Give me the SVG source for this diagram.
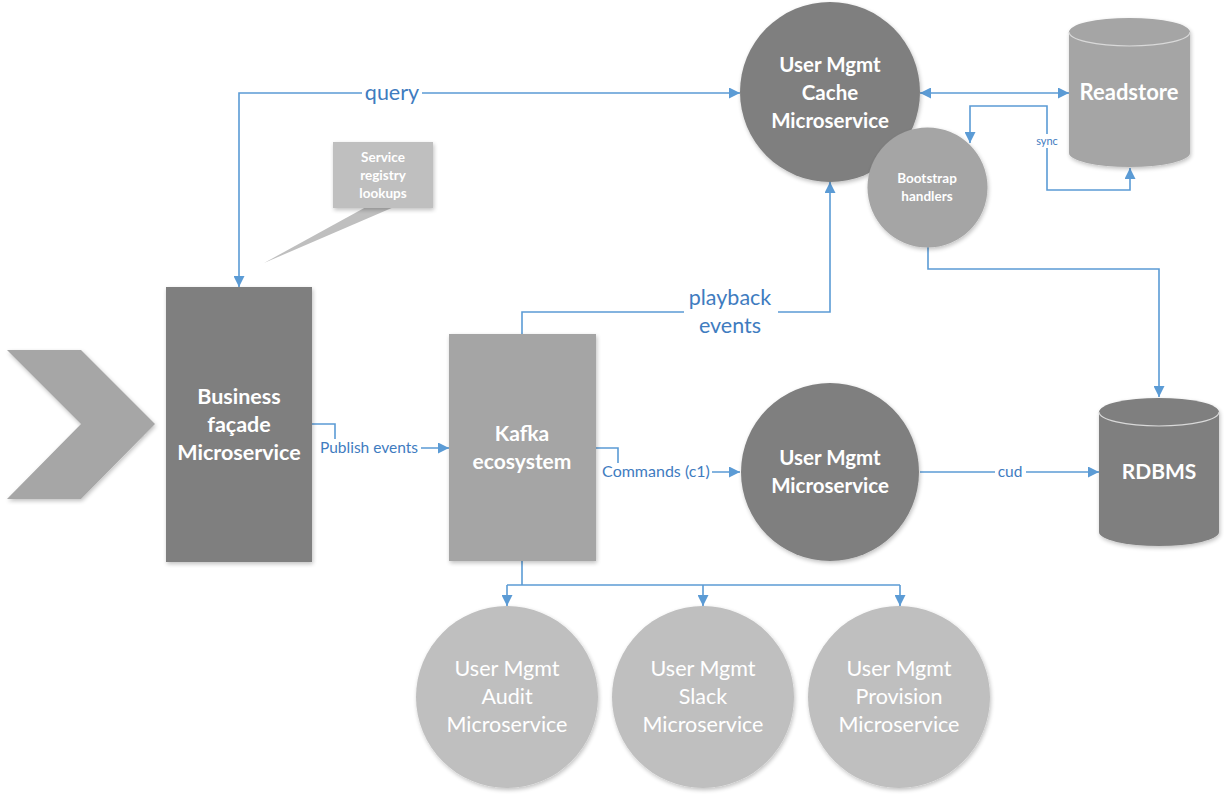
<svg xmlns="http://www.w3.org/2000/svg" width="1232" height="796" viewBox="0 0 1232 796">
<style>
.bg{fill:#ffffff}
.dark{fill:#7f7f7f}
.mid{fill:#a5a5a5}
.light{fill:#bfbfbf}
.t{font-family:Lato,"Open Sans","Liberation Sans",sans-serif;fill:#ffffff;text-anchor:middle}
.b{font-weight:bold}
.conn{fill:none;stroke:#5b9bd5;stroke-width:1.6}
.lbl{font-family:Lato,"Open Sans","Liberation Sans",sans-serif;fill:#3f7cbf;text-anchor:middle}
.rim{fill:none;stroke:#d9d9d9;stroke-width:1.2}
</style>
<defs>
<marker id="ah" viewBox="0 0 10 10" refX="10" refY="5" markerWidth="11" markerHeight="11" markerUnits="userSpaceOnUse" orient="auto-start-reverse">
<path d="M0,0 L10,5 L0,10 z" fill="#5b9bd5"/>
</marker>
<filter id="sh" x="-10%" y="-10%" width="130%" height="130%">
<feGaussianBlur in="SourceAlpha" stdDeviation="2"/>
<feOffset dx="1" dy="2" result="o"/>
<feComponentTransfer><feFuncA type="linear" slope="0.25"/></feComponentTransfer>
<feMerge><feMergeNode/><feMergeNode in="SourceGraphic"/></feMerge>
</filter>
</defs>
<rect class="bg" x="0" y="0" width="1232" height="796"/>

<g id="connectors">
<path class="conn" d="M239,287 V93 H740" marker-start="url(#ah)" marker-end="url(#ah)"/>
<path class="conn" d="M920,93 H1069" marker-start="url(#ah)" marker-end="url(#ah)"/>
<path class="conn" d="M1130,168 V190 H1047 V106 H970 V143" marker-start="url(#ah)" marker-end="url(#ah)"/>
<path class="conn" d="M928,247 V269 H1159 V397" marker-end="url(#ah)"/>
<path class="conn" d="M522,334 V312 H830 V182" marker-end="url(#ah)"/>
<path class="conn" d="M312,424 H335 V448 H449" marker-end="url(#ah)"/>
<path class="conn" d="M596,448 H618 V472 H740" marker-end="url(#ah)"/>
<path class="conn" d="M920,472 H1099" marker-end="url(#ah)"/>
<path class="conn" d="M522,561 V585"/>
<path class="conn" d="M507,585 H900"/>
<path class="conn" d="M507,585 V606" marker-end="url(#ah)"/>
<path class="conn" d="M703,585 V606" marker-end="url(#ah)"/>
<path class="conn" d="M900,585 V606" marker-end="url(#ah)"/>
<rect class="bg" x="362" y="81" width="60" height="24"/>
<text class="lbl" x="392" y="100" font-size="21.5">query</text>
<rect class="bg" x="684" y="285" width="94" height="52"/>
<text class="lbl" x="730" y="305" font-size="21.5">playback</text>
<text class="lbl" x="730" y="333" font-size="21.5">events</text>
<rect class="bg" x="319" y="439" width="102" height="18"/>
<text class="lbl" x="369" y="453" font-size="15.5">Publish events</text>
<rect class="bg" x="601" y="463" width="111" height="18"/>
<text class="lbl" x="656" y="477" font-size="16">Commands (c1)</text>
<rect class="bg" x="995" y="463" width="31" height="18"/>
<text class="lbl" x="1010" y="477" font-size="15.5">cud</text>
<rect class="bg" x="1035" y="134" width="24" height="14"/>
<text class="lbl" x="1047" y="145" font-size="11">sync</text>
</g>

<g id="entry-chevron">
<polygon points="7,350 81,350 155,424 81,499 7,499 81,424" fill="#a6a6a6" filter="url(#sh)"/>
</g>

<g id="service-registry-callout">
<polygon points="366,207 394,207 264,263" class="light"/>
<rect x="333" y="142" width="100" height="66" class="light" filter="url(#sh)"/>
<text class="t b" font-size="13.5" x="383" y="162">Service</text>
<text class="t b" font-size="13.5" x="383" y="180">registry</text>
<text class="t b" font-size="13.5" x="383" y="198">lookups</text>
</g>

<g id="business-facade">
<rect x="166" y="287" width="146" height="275" class="dark" filter="url(#sh)"/>
<text class="t b" font-size="21.5" x="239" y="404">Business</text>
<text class="t b" font-size="21.5" x="239" y="432">façade</text>
<text class="t b" font-size="21.5" x="239" y="460">Microservice</text>
</g>

<g id="kafka">
<rect x="449" y="334" width="147" height="227" class="mid" filter="url(#sh)"/>
<text class="t b" font-size="21" x="522" y="441">Kafka</text>
<text class="t b" font-size="21" x="522" y="469">ecosystem</text>
</g>

<g id="cache-ms">
<circle cx="830" cy="92" r="90" class="dark" filter="url(#sh)"/>
<text class="t b" font-size="20.5" x="830" y="72">User Mgmt</text>
<text class="t b" font-size="20.5" x="830" y="100">Cache</text>
<text class="t b" font-size="20.5" x="830" y="128">Microservice</text>
</g>

<g id="bootstrap">
<circle cx="927.5" cy="187.5" r="60" class="mid" filter="url(#sh)"/>
<text class="t b" font-size="13.5" x="927" y="183">Bootstrap</text>
<text class="t b" font-size="13.5" x="927" y="201">handlers</text>
</g>

<g id="readstore">
<path d="M1069,32 A60.5,14 0 0 1 1190,32 V153 A60.5,14 0 0 1 1069,153 Z" class="mid" filter="url(#sh)"/>
<path d="M1069,32 A60.5,14 0 0 0 1190,32" class="rim"/>
<text class="t b" font-size="22" x="1129" y="100">Readstore</text>
</g>

<g id="user-mgmt-ms">
<circle cx="830" cy="472" r="89" class="dark" filter="url(#sh)"/>
<text class="t b" font-size="20.5" x="830" y="465">User Mgmt</text>
<text class="t b" font-size="20.5" x="830" y="493">Microservice</text>
</g>

<g id="rdbms">
<path d="M1099,412 A60,14 0 0 1 1219,412 V532 A60,14 0 0 1 1099,532 Z" class="dark" filter="url(#sh)"/>
<path d="M1099,412 A60,14 0 0 0 1219,412" class="rim"/>
<text class="t b" font-size="21" x="1159" y="479">RDBMS</text>
</g>

<g id="audit-ms">
<circle cx="507" cy="697" r="91" class="light" filter="url(#sh)"/>
<text class="t" font-size="21.5" x="507" y="676">User Mgmt</text>
<text class="t" font-size="21.5" x="507" y="704">Audit</text>
<text class="t" font-size="21.5" x="507" y="732">Microservice</text>
</g>

<g id="slack-ms">
<circle cx="703" cy="697" r="91" class="light" filter="url(#sh)"/>
<text class="t" font-size="21.5" x="703" y="676">User Mgmt</text>
<text class="t" font-size="21.5" x="703" y="704">Slack</text>
<text class="t" font-size="21.5" x="703" y="732">Microservice</text>
</g>

<g id="provision-ms">
<circle cx="899" cy="697" r="91" class="light" filter="url(#sh)"/>
<text class="t" font-size="21.5" x="899" y="676">User Mgmt</text>
<text class="t" font-size="21.5" x="899" y="704">Provision</text>
<text class="t" font-size="21.5" x="899" y="732">Microservice</text>
</g>
</svg>
